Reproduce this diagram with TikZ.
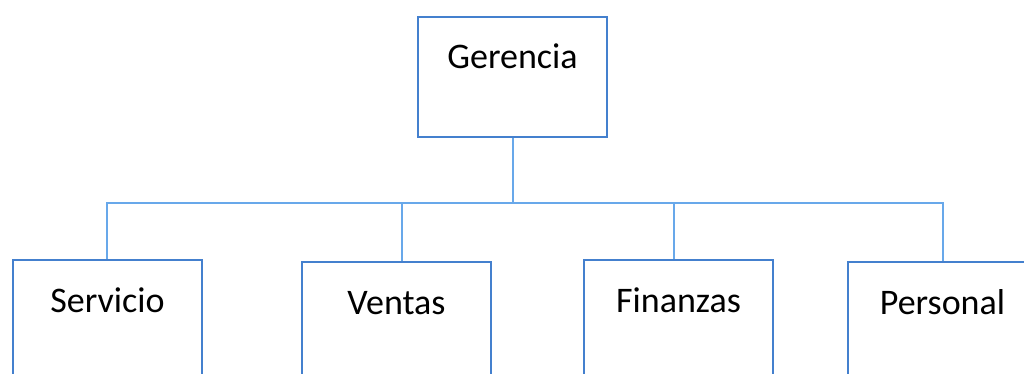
\documentclass[tikz,border=0pt]{standalone}
\usepackage{fontspec}
\setmainfont{Carlito}
\usepackage{tikz}
\definecolor{boxblue}{RGB}{68,128,206}
\definecolor{lineblue}{RGB}{104,168,234}

\begin{document}
\begin{tikzpicture}[x=1pt,y=-1pt,
    unit/.style={draw=boxblue,line width=2pt,fill=white,anchor=north west,
        minimum width=189pt,minimum height=120pt,inner ysep=0pt,
        text height=52pt,text depth=68pt,font=\fontsize{36}{43}\selectfont},
    conn/.style={draw=lineblue,line width=2pt}]
    \clip (0,0) rectangle (1024,374);

    % Top box
    \node[unit] (ger) at (417,16) {Gerencia};

    % Departments
    \node[unit] (serv) at (12,259) {Servicio};
    \node[unit] (vent) at (301,261) {Ventas};
    \node[unit] (fin) at (583,259) {Finanzas};
    \node[unit] (pers) at (847,261) {Personal};

    % Connectors
    \draw[conn] (ger.south) -- ++(0,65) -| ([xshift=-1pt]serv.north);
    \draw[conn] (ger.south) -- ++(0,65) -| ([xshift=5pt]vent.north);
    \draw[conn] (ger.south) -- ++(0,65) -| ([xshift=-5pt]fin.north);
    \draw[conn] (ger.south) -- ++(0,65) -| (pers.north);
\end{tikzpicture}
\end{document}
